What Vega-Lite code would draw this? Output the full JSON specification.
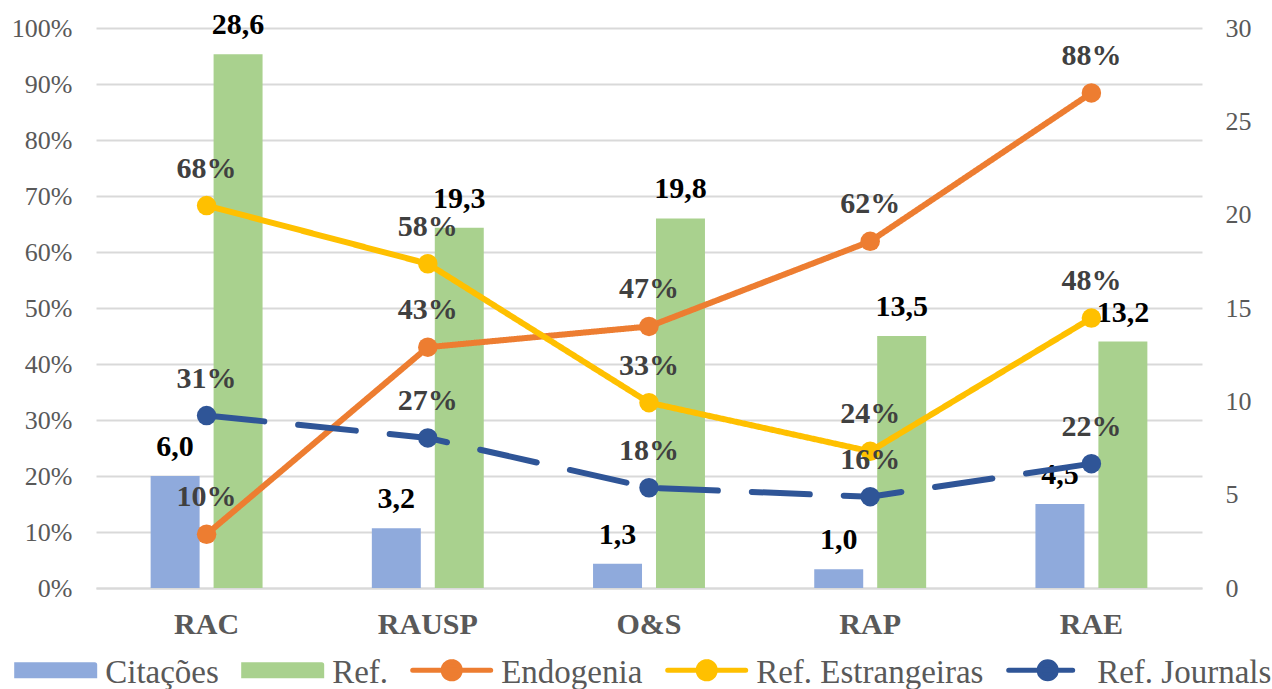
{
  "$schema": "https://vega.github.io/schema/vega-lite/v6.json",
  "width": 1106,
  "height": 560,
  "autosize": {"type": "none"},
  "padding": {"left": 96, "top": 28, "right": 70, "bottom": 101},
  "config": {
    "locale": {"number": {"decimal": ",", "thousands": ".", "grouping": [3], "currency": ["", ""]}},
    "view": {"stroke": null},
    "font": "Liberation Serif"
  },
  "datasets": {
    "barras": [
      {"rev": "RAC", "serie": "Citações", "valor": 6.0},
      {"rev": "RAC", "serie": "Ref.", "valor": 28.6},
      {"rev": "RAUSP", "serie": "Citações", "valor": 3.2},
      {"rev": "RAUSP", "serie": "Ref.", "valor": 19.3},
      {"rev": "O&S", "serie": "Citações", "valor": 1.3},
      {"rev": "O&S", "serie": "Ref.", "valor": 19.8},
      {"rev": "RAP", "serie": "Citações", "valor": 1.0},
      {"rev": "RAP", "serie": "Ref.", "valor": 13.5},
      {"rev": "RAE", "serie": "Citações", "valor": 4.5},
      {"rev": "RAE", "serie": "Ref.", "valor": 13.2}
    ],
    "linhas": [
      {"rev": "RAC", "serie": "Endogenia", "valor": 0.096},
      {"rev": "RAUSP", "serie": "Endogenia", "valor": 0.43},
      {"rev": "O&S", "serie": "Endogenia", "valor": 0.467},
      {"rev": "RAP", "serie": "Endogenia", "valor": 0.619},
      {"rev": "RAE", "serie": "Endogenia", "valor": 0.884},
      {"rev": "RAC", "serie": "Ref. Estrangeiras", "valor": 0.683},
      {"rev": "RAUSP", "serie": "Ref. Estrangeiras", "valor": 0.579},
      {"rev": "O&S", "serie": "Ref. Estrangeiras", "valor": 0.331},
      {"rev": "RAP", "serie": "Ref. Estrangeiras", "valor": 0.244},
      {"rev": "RAE", "serie": "Ref. Estrangeiras", "valor": 0.482},
      {"rev": "RAC", "serie": "Ref. Journals", "valor": 0.308},
      {"rev": "RAUSP", "serie": "Ref. Journals", "valor": 0.268},
      {"rev": "O&S", "serie": "Ref. Journals", "valor": 0.179},
      {"rev": "RAP", "serie": "Ref. Journals", "valor": 0.163},
      {"rev": "RAE", "serie": "Ref. Journals", "valor": 0.222}
    ]
  },
  "encoding": {
    "x": {
      "field": "rev",
      "type": "nominal",
      "sort": ["RAC", "RAUSP", "O&S", "RAP", "RAE"],
      "scale": {"paddingInner": 0.494, "paddingOuter": 0.247},
      "axis": {
        "title": null,
        "labelAngle": 0,
        "labelFontSize": 30,
        "labelFontWeight": "bold",
        "labelColor": "#595959",
        "labelFont": "Liberation Serif",
        "labelPadding": 21,
        "ticks": false,
        "tickSize": 0,
        "domainColor": "#d9d9d9",
        "domainWidth": 2,
        "grid": false
      }
    }
  },
  "layer": [
    {
      "data": {"name": "barras"},
      "encoding": {
        "y": {
          "field": "valor",
          "type": "quantitative",
          "scale": {"domain": [0, 30], "nice": false},
          "axis": {
            "orient": "right",
            "title": null,
            "values": [0, 5, 10, 15, 20, 25, 30],
            "grid": false,
            "domain": false,
            "ticks": false,
            "tickSize": 0,
            "labelPadding": 23,
            "labelFontSize": 26,
            "labelColor": "#595959",
            "labelFont": "Liberation Serif",
            "format": "d"
          }
        },
        "xOffset": {
          "field": "serie",
          "type": "nominal",
          "sort": ["Citações", "Ref."],
          "scale": {"paddingInner": 0.222, "paddingOuter": 0}
        }
      },
      "layer": [
        {
          "mark": {"type": "bar"},
          "encoding": {
            "color": {
              "field": "serie",
              "type": "nominal",
              "scale": {
                "domain": ["Citações", "Ref.", "Endogenia", "Ref. Estrangeiras", "Ref. Journals"],
                "range": ["#8faadc", "#a9d18e", "#ed7d31", "#ffc000", "#2f5597"]
              },
              "legend": {
                "title": null,
                "orient": "none",
                "legendX": -81.8,
                "legendY": 600.5,
                "direction": "horizontal",
                "columns": 5,
                "columnPadding": 14,
                "padding": 0,
                "symbolSize": 6084,
                "symbolStrokeWidth": 5,
                "labelFontSize": 33,
                "labelFont": "Liberation Serif",
                "labelColor": "#595959",
                "labelOffset": 8,
                "labelLimit": 500,
                "encode": {
                  "labels": {
                    "update": {
                      "dy": {"value": 3}
                    }
                  },
                  "symbols": {
                    "update": {
                      "shape": {"signal": "(datum.value === 'Citações' || datum.value === 'Ref.') ? 'M-1,-0.14H1V0.14H-1Z' : 'M-1,0H1M0.22,0A0.22,0.22 0 1,1 -0.22,0A0.22,0.22 0 1,1 0.22,0Z'"},
                      "size": {"value": 6084},
                      "fill": {"scale": "color", "field": "value"},
                      "stroke": {"signal": "(datum.value === 'Citações' || datum.value === 'Ref.') ? 'transparent' : scale('color', datum.value)"},
                      "strokeWidth": {"value": 5},
                      "strokeDash": {"signal": "datum.value === 'Ref. Journals' ? [64, 30] : [1, 0]"},
                      "strokeCap": {"value": "round"},
                      "opacity": {"value": 1},
                      "fillOpacity": {"value": 1},
                      "strokeOpacity": {"value": 1}
                    }
                  }
                }
              }
            }
          }
        },
        {
          "mark": {"type": "text", "dy": -20, "baseline": "alphabetic", "fontSize": 30, "fontWeight": "bold", "color": "#000000", "font": "Liberation Serif"},
          "encoding": {
            "text": {"field": "valor", "type": "quantitative", "format": ".1f"}
          }
        }
      ]
    },
    {
      "data": {"name": "linhas"},
      "encoding": {
        "y": {
          "field": "valor",
          "type": "quantitative",
          "scale": {"domain": [0, 1], "nice": false},
          "axis": {
            "orient": "left",
            "title": null,
            "values": [0, 0.1, 0.2, 0.3, 0.4, 0.5, 0.6, 0.7, 0.8, 0.9, 1],
            "format": ".0%",
            "grid": true,
            "gridColor": "#d9d9d9",
            "gridWidth": 2,
            "domain": false,
            "ticks": false,
            "tickSize": 0,
            "labelPadding": 24,
            "labelFontSize": 26,
            "labelColor": "#595959",
            "labelFont": "Liberation Serif"
          }
        }
      },
      "layer": [
        {
          "mark": {"type": "line", "strokeWidth": 6, "strokeCap": "round", "strokeJoin": "round"},
          "encoding": {
            "color": {
              "field": "serie",
              "type": "nominal",
              "scale": {
                "domain": ["Citações", "Ref.", "Endogenia", "Ref. Estrangeiras", "Ref. Journals"],
                "range": ["#8faadc", "#a9d18e", "#ed7d31", "#ffc000", "#2f5597"]
              }
            },
            "strokeDash": {
              "field": "serie",
              "type": "nominal",
              "scale": {
                "domain": ["Endogenia", "Ref. Estrangeiras", "Ref. Journals"],
                "range": [[1, 0], [1, 0], [58, 34]]
              },
              "legend": null
            }
          }
        },
        {
          "mark": {"type": "circle", "size": 380, "opacity": 1},
          "encoding": {
            "color": {
              "field": "serie",
              "type": "nominal",
              "scale": {
                "domain": ["Citações", "Ref.", "Endogenia", "Ref. Estrangeiras", "Ref. Journals"],
                "range": ["#8faadc", "#a9d18e", "#ed7d31", "#ffc000", "#2f5597"]
              }
            }
          }
        },
        {
          "mark": {"type": "text", "dy": -28, "baseline": "alphabetic", "fontSize": 30, "fontWeight": "bold", "color": "#404040", "font": "Liberation Serif"},
          "encoding": {
            "text": {"field": "valor", "type": "quantitative", "format": ".0%"}
          }
        }
      ]
    }
  ],
  "resolve": {"scale": {"y": "independent"}}
}
